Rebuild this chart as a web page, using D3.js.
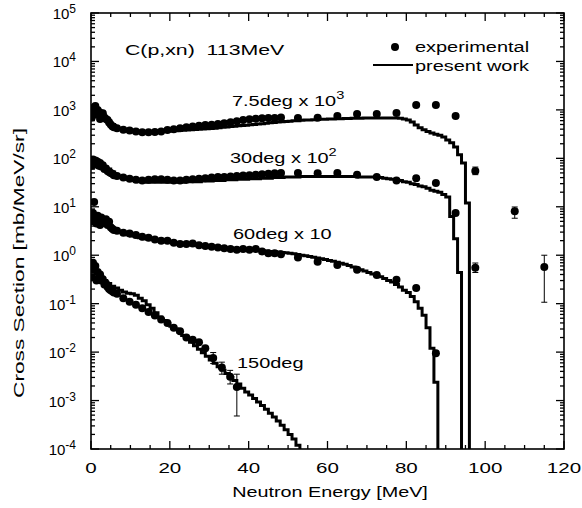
<!DOCTYPE html>
<html>
<head>
<meta charset="utf-8">
<script src="https://cdn.jsdelivr.net/npm/d3@7"></script>
<style>
body { margin: 0; background: #fff; }
text { font-family: "Liberation Sans", Arial, sans-serif; fill: #000; }
</style>
</head>
<body>
<div id="chart"></div>
<script>
// experimental energies (shared by 7.5, 30, 60 deg)
var expEnergy = [0.2,0.5,0.8,1.1,1.4,1.7,2.0,2.3,2.6,3.0,3.4,3.8,4.2,4.6,5.0,5.4,5.8,
	6.6,8.2,9.8,11.4,13,14.6,16.2,17.8,19.4,21,22.6,24.2,25.8,27.4,29,30.6,32.2,33.8,35.4,37,38.6,40.2,41.8,43.4,45,46.6,48.2,
	52.5,57.5,62.5,67.5,72.5,77.5,82.5,87.5,92.5];

var exp7 = [700,1100,950,1200,800,1000,900,650,850,850,700,650,620,550,500,460,440,
	420,390,375,360,345,345,350,360,385,400,420,440,455,470,485,495,510,530,555,580,620,640,660,670,680,680,700,
	680,690,750,820,820,860,1260,1260,750];
var exp30 = [70,95,80,90,75,85,70,80,68,72,60,62,55,52,50,48,45,
	43,40,38,36,35,36,37,37,36,35,35,36,37,38,39,40,41,41,42,43,44,45,46,47,48,49,50,
	50,49,50,46,41,35,39,31,7.4];
var exp60 = [5,7.4,12.6,6,4.5,6.5,5.5,4.2,6,5,4.6,5.5,4.2,4.9,3.8,3.5,3.3,
	3.2,2.9,2.8,2.6,2.4,2.3,2.1,2.0,2.0,1.8,1.7,1.7,1.75,1.6,1.55,1.5,1.45,1.4,1.35,1.3,1.35,1.3,1.35,1.2,1.1,1.1,1.05,
	0.9,0.73,0.63,0.5,0.39,0.31,0.21,0.0095,null];

var energy150 = [0.2,0.5,0.8,1.1,1.4,1.7,2.0,2.3,2.6,3.0,3.4,3.8,4.2,4.6,5.0,5.4,5.8,
	6.6,8.2,9.8,11.4,13,14.6,16.2,17.8,19.4,21,22.6,24.2,25.8,27.4,29];
var exp150 = [0.35,0.7,0.5,0.6,0.3,0.45,0.35,0.4,0.3,0.32,0.25,0.26,0.22,0.2,0.19,0.18,0.17,
	0.16,0.13,0.11,0.095,0.08,0.067,0.057,0.047,0.04,0.032,0.027,0.02,0.018,0.016,0.012];

// points with error bars
var errEnergy = [31,33.2,35.3,37,97.5,107.5,97.5,115];
var errValue = [0.0076,0.0048,0.0031,0.0019,55,8.1,0.55,0.57];
var errLow = [0.0058,0.0035,0.0022,0.00048,46,5.8,0.44,0.107];
var errHigh = [0.0098,0.0062,0.0042,0.0035,66,9.9,0.69,1.0];

// calculation (1 MeV bins starting at 0)
var calc7 = [1000,900,800,700,600,500,440,400,380,365,355,350,350,348,348,350,352,355,358,362,366,
	370,375,380,385,390,395,400,405,410,415,420,428,436,444,452,460,468,476,484,492,
	500,510,520,530,540,550,560,570,578,586,594,600,608,615,620,626,632,638,643,648,
	652,656,660,664,668,670,672,675,677,679,680,681,682,683,683,682,680,670,650,620,
	560,490,430,390,360,335,315,300,275,240,210,172,118,80,12];
var calc30 = [85,80,75,68,60,52,46,42,39,37,35,34,33,33,32,32,32,32,32,32,32,
	32,32,32,33,33,33,33,34,34,34,35,35,35,36,36,36,37,37,37,38,
	38,38,39,39,39,40,40,40,41,41,41,41,42,42,42,42,42,42,42,42,
	42,42,42,42,42,42,42,41,41,41,41,40,40,39,38,37,36,35,33,32,
	30,29,27,26,24,22,21,20,18,16,6.3,2.2,0.44];
var calc60 = [6,5.5,5,4.4,3.9,3.5,3.2,3.0,2.8,2.65,2.5,2.4,2.3,2.2,2.15,2.1,2.05,2.0,1.95,1.9,1.85,
	1.8,1.76,1.72,1.68,1.65,1.62,1.59,1.56,1.53,1.5,1.48,1.46,1.44,1.42,1.4,1.38,1.36,1.34,1.32,1.3,
	1.28,1.26,1.24,1.22,1.2,1.18,1.16,1.14,1.12,1.1,1.07,1.04,1.0,0.97,0.94,0.91,0.88,0.85,0.82,0.78,
	0.75,0.72,0.68,0.65,0.61,0.57,0.54,0.5,0.47,0.44,0.41,0.38,0.36,0.33,0.30,0.28,0.25,0.22,0.19,0.17,
	0.14,0.11,0.08,0.058,0.032,0.012,0.0024];
var calc150 = [0.6,0.45,0.36,0.30,0.26,0.23,0.21,0.19,0.175,0.165,0.16,0.15,0.13,0.115,0.095,0.08,0.065,0.053,0.045,0.039,0.034,
	0.030,0.026,0.022,0.019,0.016,0.0135,0.0115,0.0097,0.0082,0.0069,0.0059,0.0050,0.0042,0.0036,0.0030,0.0026,0.0022,0.0018,0.0015,0.0013,
	0.0011,0.00093,0.00079,0.00066,0.00055,0.00046,0.00038,0.00031,0.00025,0.0002,0.00016,0.00012];

var xTicks = [0,20,40,60,80,100,120];
var yExponents = [-4,-3,-2,-1,0,1,2,3,4,5];

var svgWidth = 582;
var svgHeight = 508;
var pLeft = 91, pRight = 564, pTop = 13, pBottom = 449;
var stretch = 1.33; // text in the picture is wider than normal

var svg = d3.select("#chart")
	.append("svg")
	.attr("width", svgWidth)
	.attr("height", svgHeight);

var x = d3.scaleLinear().domain([0, 120]).range([pLeft, pRight]);
var y = d3.scaleLog().domain([1e-4, 1e5]).range([pBottom, pTop]);

svg.append("clipPath").attr("id", "plotClip")
	.append("rect")
	.attr("x", pLeft).attr("y", pTop)
	.attr("width", pRight - pLeft).attr("height", pBottom - pTop);

var plot = svg.append("g").attr("clip-path", "url(#plotClip)");

// step curves
var line = d3.line()
	.x((d) => x(d[0]))
	.y((d) => y(Math.max(d[1], 1e-5)))
	.curve(d3.curveStepAfter);

[calc7, calc30, calc60, calc150].forEach(function(vals){
	var pts = vals.map((v, i) => [i, v]);
	pts.push([vals.length, vals[vals.length - 1]]);
	pts.push([vals.length, 1e-5]);
	plot.append("path")
		.attr("d", line(pts))
		.attr("fill", "none")
		.attr("stroke", "#000")
		.attr("stroke-width", 3);
});

// experimental dots
var dotR = 4;
function dots(energies, vals){
	var data = energies.map((e, i) => [e, vals[i]]).filter((d) => d[1] != null);
	plot.append("g").selectAll("circle")
		.data(data)
		.enter()
		.append("circle")
		.attr("cx", (d) => x(d[0]))
		.attr("cy", (d) => y(d[1]))
		.attr("r", dotR)
		.attr("fill", "#000");
}
dots(expEnergy, exp7);
dots(expEnergy, exp30);
dots(expEnergy, exp60);
dots(energy150, exp150);

// error bars
var errG = plot.append("g");
errEnergy.forEach(function(e, i){
	var cx = x(e);
	errG.append("line").attr("x1", cx).attr("x2", cx)
		.attr("y1", y(errLow[i])).attr("y2", y(errHigh[i]))
		.attr("stroke", "#000").attr("stroke-width", 1);
	[errLow[i], errHigh[i]].forEach(function(v){
		errG.append("line").attr("x1", cx - 3).attr("x2", cx + 3)
			.attr("y1", y(v)).attr("y2", y(v))
			.attr("stroke", "#000").attr("stroke-width", 1);
	});
	errG.append("circle").attr("cx", cx).attr("cy", y(errValue[i]))
		.attr("r", dotR).attr("fill", "#000");
});

// frame
svg.append("rect")
	.attr("x", pLeft).attr("y", pTop)
	.attr("width", pRight - pLeft).attr("height", pBottom - pTop)
	.attr("fill", "none")
	.attr("stroke", "#000")
	.attr("stroke-width", 1.6);

// x ticks (inside, top and bottom)
var tickG = svg.append("g").attr("stroke", "#000").attr("stroke-width", 1.3);
d3.range(0, 121, 5).forEach(function(e){
	var len = (e % 20 === 0) ? 8 : 4;
	tickG.append("line").attr("x1", x(e)).attr("x2", x(e)).attr("y1", pBottom).attr("y2", pBottom - len);
	tickG.append("line").attr("x1", x(e)).attr("x2", x(e)).attr("y1", pTop).attr("y2", pTop + len);
});
// y ticks (log, left and right)
yExponents.forEach(function(p){
	var base = Math.pow(10, p);
	tickG.append("line").attr("x1", pLeft).attr("x2", pLeft + 8).attr("y1", y(base)).attr("y2", y(base));
	tickG.append("line").attr("x1", pRight).attr("x2", pRight - 8).attr("y1", y(base)).attr("y2", y(base));
	if (p < 5) {
		for (var k = 2; k < 10; k++) {
			var yy = y(base * k);
			tickG.append("line").attr("x1", pLeft).attr("x2", pLeft + 4).attr("y1", yy).attr("y2", yy);
			tickG.append("line").attr("x1", pRight).attr("x2", pRight - 4).attr("y1", yy).attr("y2", yy);
		}
	}
});

// stretched text helper
function addText(tx, ty, anchor, sx){
	return svg.append("text")
		.attr("transform", "translate(" + [tx, ty] + ") scale(" + sx + ",1)")
		.attr("text-anchor", anchor)
		.attr("xml:space", "preserve")
		.style("font-size", "15px");
}

// tick labels
xTicks.forEach(function(d){
	addText(x(d), 473, "middle", 1.37).text(d);
});

var yLab = svg.append("g").selectAll("text")
	.data(yExponents)
	.enter()
	.append("text")
	.attr("x", 76)
	.attr("y", (d) => y(Math.pow(10, d)) + 6)
	.attr("text-anchor", "end")
	.style("font-size", "15px");
yLab.append("tspan").text("10");
yLab.append("tspan").attr("dy", -6).style("font-size", "12px").text((d) => d);

// axis titles
addText(330, 497, "middle", 1.32).text("Neutron Energy [MeV]");
svg.append("text")
	.attr("transform", "translate(24,263) rotate(-90)")
	.attr("text-anchor", "middle")
	.attr("textLength", 270)
	.attr("lengthAdjust", "spacingAndGlyphs")
	.style("font-size", "15px")
	.text("Cross Section [mb/MeV/sr]");

// annotations
addText(125, 55, "start", 1.42).text("C(p,xn)  113MeV");

function label(tx, ty, main, sup){
	var t = addText(tx, ty, "start", stretch);
	t.append("tspan").text(main);
	if (sup) t.append("tspan").attr("dy", -7).style("font-size", "11px").text(sup);
}
label(232, 106, "7.5deg x 10", "3");
label(230, 163, "30deg x 10", "2");
label(233, 239, "60deg x 10");
label(237, 368, "150deg");

// legend
svg.append("circle").attr("cx", 395).attr("cy", 47).attr("r", dotR).attr("fill", "#000");
addText(415, 52, "start", stretch).text("experimental");
svg.append("line").attr("x1", 373).attr("x2", 413).attr("y1", 65).attr("y2", 65)
	.attr("stroke", "#000").attr("stroke-width", 2);
addText(415, 71, "start", stretch).text("present work");
</script>
</body>
</html>
